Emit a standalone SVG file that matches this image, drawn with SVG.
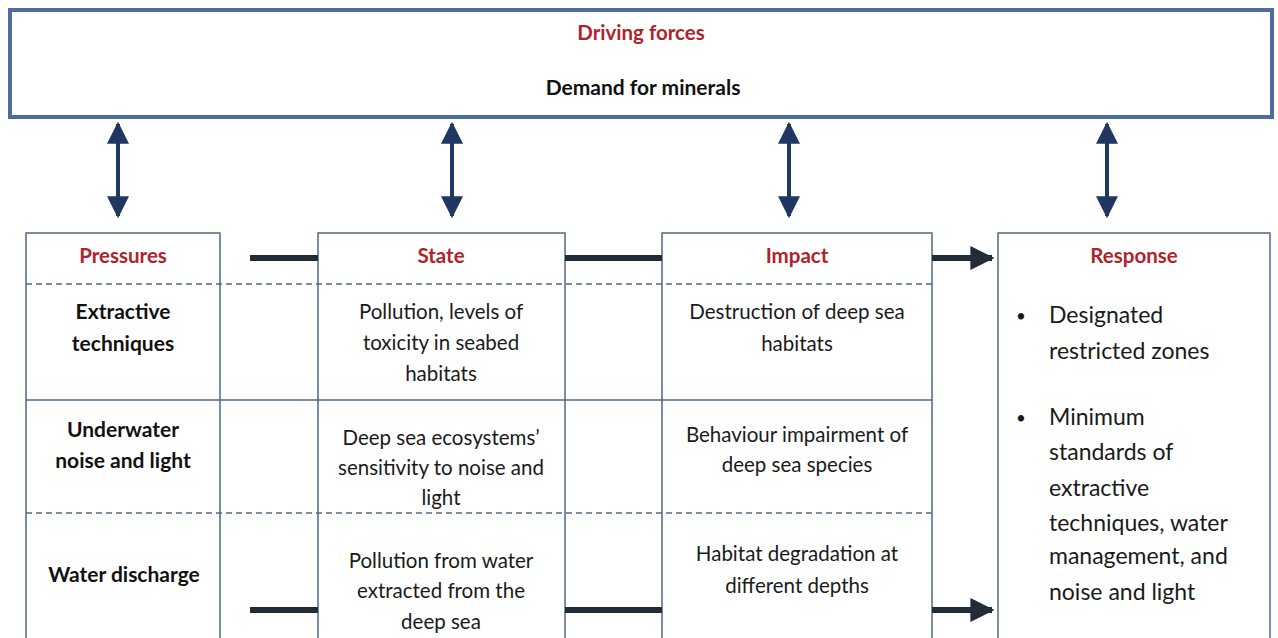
<svg xmlns="http://www.w3.org/2000/svg" width="1278" height="638" viewBox="0 0 1278 638">
<defs>
<marker id="ahv" viewBox="0 0 10 10" refX="9" refY="5" markerWidth="5.5" markerHeight="5.5" orient="auto-start-reverse" markerUnits="strokeWidth">
<path d="M0,0 L10,5 L0,10 z" fill="#1f3761"/>
</marker>
<marker id="ahh" viewBox="0 0 10 10" refX="9" refY="5" markerWidth="4" markerHeight="4" orient="auto" markerUnits="strokeWidth">
<path d="M0,0 L10,5 L0,10 z" fill="#222b38"/>
</marker>
</defs>
<style>
text{font-family:Lato,"Liberation Sans",sans-serif;text-anchor:middle}
.h{font-weight:bold;fill:#b0232b;font-size:20.5px}
.b{font-weight:bold;fill:#111;font-size:21px}
.t{fill:#1a1a1a;font-size:20.5px}
.r{fill:#1a1a1a;font-size:23px;text-anchor:start}
.d{fill:#1a1a1a;font-size:17px;text-anchor:start}
.box{fill:#fff;stroke:#4d6a86;stroke-width:1.5}
.dash{stroke:#4d6a86;stroke-width:1.3;stroke-dasharray:6,4}
.sol{stroke:#4d6a86;stroke-width:1.3}
.bar{stroke:#222b38;stroke-width:6}
.va{stroke:#1f3761;stroke-width:4;marker-start:url(#ahv);marker-end:url(#ahv)}
</style>
<rect width="1278" height="638" fill="#fff"/>
<g id="driving">
<rect x="10" y="10" width="1262" height="107" fill="#fff" stroke="#4f6d9c" stroke-width="4"/>
<text x="641" y="40" class="h">Driving forces</text>
<text x="643" y="95" class="b">Demand for minerals</text>
</g>
<g id="pressures">
<rect class="box" x="26" y="233" width="194" height="410"/>
<text x="123" y="263" class="h">Pressures</text>
<text x="123" y="319" class="b">Extractive</text>
<text x="123" y="351" class="b">techniques</text>
<text x="123" y="437" class="b">Underwater</text>
<text x="123" y="468" class="b">noise and light</text>
<text x="124" y="582" class="b">Water discharge</text>
</g>
<g id="state">
<rect class="box" x="318" y="233" width="247" height="410"/>
<text x="441" y="263" class="h">State</text>
<text x="441" y="319" class="t">Pollution, levels of</text>
<text x="441" y="350" class="t">toxicity in seabed</text>
<text x="441" y="381" class="t">habitats</text>
<text x="441" y="445" class="t">Deep sea ecosystems’</text>
<text x="441" y="475" class="t">sensitivity to noise and</text>
<text x="441" y="505" class="t">light</text>
<text x="441" y="568" class="t">Pollution from water</text>
<text x="441" y="598" class="t">extracted from the</text>
<text x="441" y="629" class="t">deep sea</text>
</g>
<g id="impact">
<rect class="box" x="662" y="233" width="270" height="410"/>
<text x="797" y="263" class="h">Impact</text>
<text x="797" y="319" class="t">Destruction of deep sea</text>
<text x="797" y="351" class="t">habitats</text>
<text x="797" y="442" class="t">Behaviour impairment of</text>
<text x="797" y="472" class="t">deep sea species</text>
<text x="797" y="561" class="t">Habitat degradation at</text>
<text x="797" y="593" class="t">different depths</text>
</g>
<g id="grid">
<line class="dash" x1="26" y1="284" x2="932" y2="284"/>
<line class="sol" x1="26" y1="400" x2="932" y2="400"/>
<line class="dash" x1="26" y1="513" x2="932" y2="513"/>
</g>
<g id="response">
<rect class="box" x="998" y="233" width="272" height="410"/>
<text x="1134" y="263" class="h">Response</text>
<text x="1016" y="322" class="d">•</text>
<text x="1049" y="323" class="r">Designated</text>
<text x="1049" y="359" class="r">restricted zones</text>
<text x="1016" y="424" class="d">•</text>
<text x="1049" y="425" class="r">Minimum</text>
<text x="1049" y="460" class="r">standards of</text>
<text x="1049" y="496" class="r">extractive</text>
<text x="1049" y="531" class="r">techniques, water</text>
<text x="1049" y="564" class="r">management, and</text>
<text x="1049" y="600" class="r">noise and light</text>
</g>
<g id="connectors">
<line class="va" x1="118" y1="124" x2="118" y2="216"/>
<line class="va" x1="452" y1="124" x2="452" y2="216"/>
<line class="va" x1="789" y1="124" x2="789" y2="216"/>
<line class="va" x1="1107" y1="124" x2="1107" y2="216"/>
<line class="bar" x1="250" y1="258" x2="318" y2="258"/>
<line class="bar" x1="565" y1="258" x2="662" y2="258"/>
<line class="bar" x1="932" y1="258" x2="992" y2="258" marker-end="url(#ahh)"/>
<line class="bar" x1="250" y1="610" x2="318" y2="610"/>
<line class="bar" x1="565" y1="610" x2="662" y2="610"/>
<line class="bar" x1="932" y1="610" x2="992" y2="610" marker-end="url(#ahh)"/>
</g>
</svg>
